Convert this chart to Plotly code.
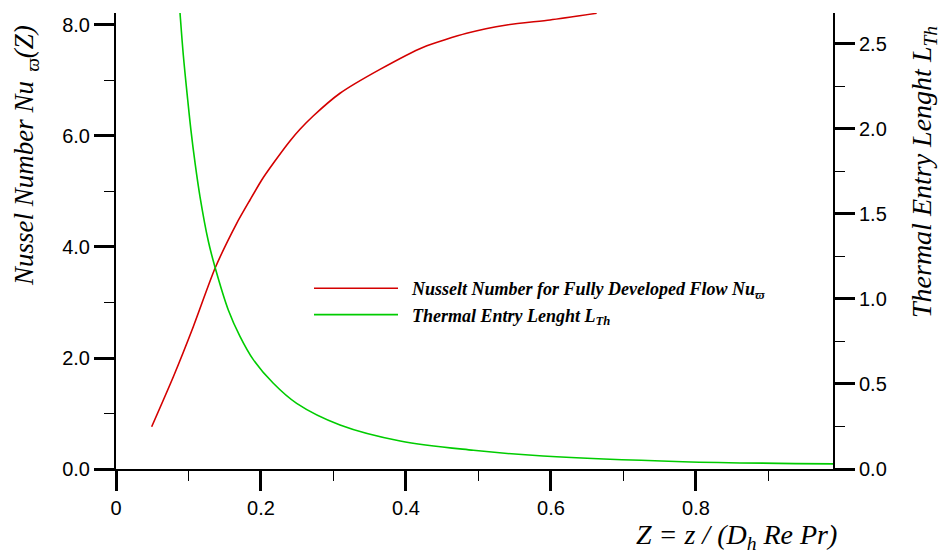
import plotly.graph_objects as go

# Nusselt number (left axis)
nu_z = [0.0492, 0.0791, 0.1066, 0.1366, 0.1665, 0.1848, 0.2010, 0.217, 0.240,
        0.2538, 0.272, 0.309, 0.3641, 0.4239, 0.4837, 0.5389, 0.5986, 0.663]
nu_val = [0.762, 1.663, 2.564, 3.616, 4.427, 4.847, 5.207, 5.508, 5.91,
          6.12, 6.36, 6.77, 7.20, 7.60, 7.85, 8.00, 8.09, 8.21]

# Thermal entry length (right axis)
lth_z = [0.085, 0.0883, 0.0929, 0.0989, 0.1034, 0.109, 0.1159, 0.1273,
         0.1366, 0.1549, 0.1710, 0.1894, 0.2170, 0.2492, 0.3090,
         0.392, 0.493, 0.589, 0.782, 0.99]
lth_val = [2.88, 2.68, 2.43, 2.17, 1.99, 1.80, 1.60, 1.34,
           1.186, 0.935, 0.78, 0.643, 0.504, 0.386, 0.259,
           0.165, 0.11, 0.076, 0.043, 0.03]

x_ticks = [0, 0.2, 0.4, 0.6, 0.8]
x_ticklabels = ["0", "0.2", "0.4", "0.6", "0.8"]
y1_ticks = [0, 2, 4, 6, 8]
y1_ticklabels = ["0.0", "2.0", "4.0", "6.0", "8.0"]
y2_ticks = [0, 0.5, 1.0, 1.5, 2.0, 2.5]
y2_ticklabels = ["0.0", "0.5", "1.0", "1.5", "2.0", "2.5"]

RED = "#d40000"
GREEN = "#00cc00"
SERIF = "Liberation Serif, Times New Roman, serif"
SANS = "Liberation Sans, Arial, sans-serif"

fig = go.Figure()
fig.add_trace(go.Scatter(
    x=nu_z, y=nu_val, mode="lines", line=dict(color=RED, width=1.6, shape="spline", smoothing=0.6),
    name="\u00a0\u00a0<b><i>Nusselt Number for Fully Developed Flow Nu<sub>ϖ</sub></i></b>", yaxis="y"))
fig.add_trace(go.Scatter(
    x=lth_z, y=lth_val, mode="lines", line=dict(color=GREEN, width=1.6, shape="spline", smoothing=1.0),
    name="\u00a0\u00a0<b><i>Thermal Entry Lenght L<sub>Th</sub></i></b>", yaxis="y2"))

axis_common = dict(
    showgrid=False, zeroline=False, showline=True, linecolor="black", linewidth=2,
    ticks="outside", ticklen=20, tickwidth=3, tickcolor="black",
    tickfont=dict(family=SANS, size=20, color="black"),
)

fig.update_layout(
    width=941, height=553,
    margin=dict(l=116, r=108, t=13, b=84),
    paper_bgcolor="white", plot_bgcolor="white",
    showlegend=True,
    legend=dict(
        x=(309 - 116) / 717, y=(469 - 270) / 456, xanchor="left", yanchor="top",
        bgcolor="rgba(0,0,0,0)", itemwidth=84,
        font=dict(family=SERIF, size=18, color="black"),
        tracegroupgap=0,
    ),
    xaxis=dict(
        range=[0, 0.989], tickvals=x_ticks, ticktext=x_ticklabels,
        minor=dict(dtick=0.1, tick0=0, ticks="outside", ticklen=10, tickwidth=1, tickcolor="black"),
        **axis_common,
    ),
    yaxis=dict(
        range=[0, 8.216], tickvals=y1_ticks, ticktext=y1_ticklabels,
        minor=dict(dtick=1, tick0=0, ticks="outside", ticklen=10, tickwidth=1, tickcolor="black"),
        **axis_common,
    ),
    yaxis2=dict(
        range=[0, 2.68], tickvals=y2_ticks, ticktext=y2_ticklabels, overlaying="y", side="right",
        minor=dict(dtick=0.25, tick0=0, ticks="outside", ticklen=10, tickwidth=1, tickcolor="black"),
        **axis_common,
    ),
    annotations=[
        dict(text="<i>Nussel Number Nu<sub>\u00a0\u00a0ϖ</sub>(Z)</i>", xref="paper", yref="paper",
             x=(26 - 116) / 717, y=(469 - 156) / 456, xanchor="center", yanchor="middle",
             textangle=-90, showarrow=False, font=dict(family=SERIF, size=27, color="black")),
        dict(text="<i>Thermal Entry Lenght L<sub>Th</sub></i>", xref="paper", yref="paper",
             x=(923 - 116) / 717, y=(469 - 172) / 456, xanchor="center", yanchor="middle",
             textangle=-90, showarrow=False, font=dict(family=SERIF, size=28, color="black")),
        dict(text="<i>Z = z / (D<sub>h</sub> Re Pr)</i>", xref="paper", yref="paper",
             x=(839 - 116) / 717, y=(469 - 536) / 456, xanchor="right", yanchor="middle",
             showarrow=False, font=dict(family=SERIF, size=28, color="black")),
    ],
)

fig.write_html("out.html")
